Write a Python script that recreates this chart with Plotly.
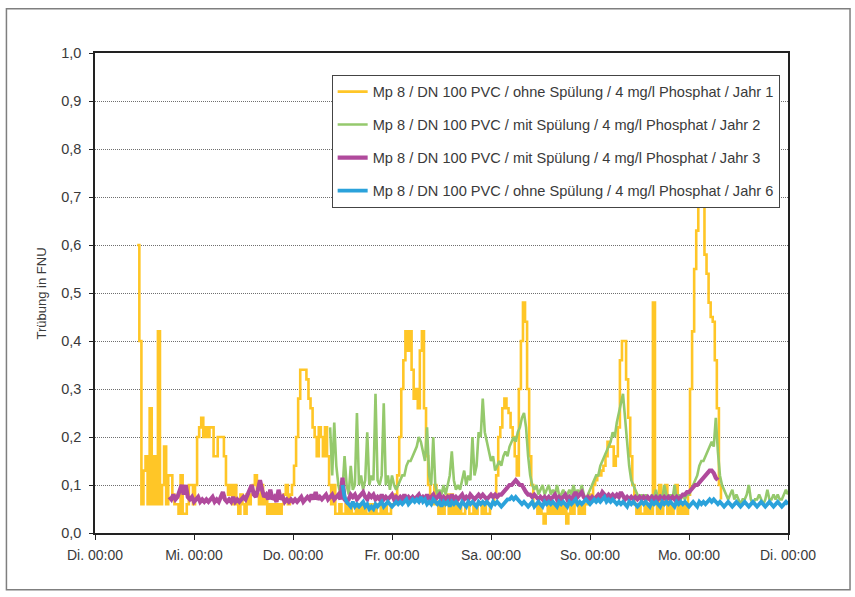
import plotly.graph_objects as go

# ---------------- data (hours since Tuesday 00:00, 0.5 h sampling) ----------------
STEP_H = 0.5
DAY_TICKS = [0, 24, 48, 72, 96, 120, 144, 168]
DAY_LABELS = ["Di. 00:00", "Mi. 00:00", "Do. 00:00", "Fr. 00:00",
              "Sa. 00:00", "So. 00:00", "Mo. 00:00", "Di. 00:00"]
Y_TICKS = [0.0, 0.1, 0.2, 0.3, 0.4, 0.5, 0.6, 0.7, 0.8, 0.9, 1.0]

NAMES = [
    "Mp 8 / DN 100 PVC / ohne Spülung / 4 mg/l Phosphat / Jahr 1",
    "Mp 8 / DN 100 PVC / mit Spülung / 4 mg/l Phosphat / Jahr 2",
    "Mp 8 / DN 100 PVC / mit Spülung / 4 mg/l Phosphat / Jahr 3",
    "Mp 8 / DN 100 PVC / ohne Spülung / 4 mg/l Phosphat / Jahr 6",
]
COLORS = ["#FFC627", "#95C96C", "#B04A9C", "#2BA2DB"]
WIDTHS = [2.6, 2.6, 4.2, 3.8]
SHAPES = ["hv", "linear", "linear", "linear"]

YELLOW_START = 10.25
YELLOW = [
    0.60, 0.40, 0.06, 0.13, 0.16, 0.06, 0.26, 0.06, 0.16, 0.06,
    0.42, 0.06, 0.10, 0.18, 0.06, 0.12, 0.12, 0.08, 0.06, 0.06,
    0.04, 0.12, 0.04, 0.04, 0.06, 0.10, 0.10, 0.06, 0.10, 0.20,
    0.22, 0.24, 0.20, 0.22, 0.20, 0.22, 0.22, 0.16, 0.16, 0.20,
    0.20, 0.20, 0.16, 0.10, 0.08, 0.10, 0.06, 0.10, 0.06, 0.04,
    0.08, 0.06, 0.04, 0.08, 0.06, 0.08, 0.10, 0.12, 0.08, 0.06,
    0.10, 0.06, 0.08, 0.04, 0.06, 0.04, 0.06, 0.04, 0.06, 0.04,
    0.06, 0.08, 0.10, 0.06, 0.08, 0.10, 0.14, 0.20, 0.28, 0.34,
    0.34, 0.34, 0.32, 0.28, 0.26, 0.22, 0.20, 0.16, 0.22, 0.20,
    0.16, 0.22, 0.16, 0.10, 0.06, 0.10, 0.04, 0.04, 0.06, 0.04,
    0.04, 0.06, 0.04, 0.06, 0.04, 0.04, 0.06, 0.04, 0.06, 0.04,
    0.06, 0.04, 0.04, 0.06, 0.04, 0.06, 0.04, 0.04, 0.06, 0.04,
    0.06, 0.04, 0.04, 0.06, 0.06, 0.08, 0.12, 0.20, 0.30, 0.36,
    0.42, 0.38, 0.42, 0.34, 0.28, 0.30, 0.26, 0.38, 0.42, 0.26,
    0.16, 0.10, 0.08, 0.06, 0.10, 0.06, 0.04, 0.06, 0.04, 0.06,
    0.08, 0.04, 0.08, 0.04, 0.06, 0.04, 0.06, 0.04, 0.04, 0.06,
    0.06, 0.04, 0.04, 0.06, 0.04, 0.06, 0.06, 0.04, 0.06, 0.04,
    0.04, 0.06, 0.06, 0.08, 0.12, 0.20, 0.22, 0.26, 0.28, 0.26,
    0.25, 0.22, 0.20, 0.16, 0.12, 0.30, 0.40, 0.48, 0.44, 0.30,
    0.16, 0.10, 0.06, 0.06, 0.04, 0.06, 0.04, 0.02, 0.04, 0.06,
    0.04, 0.06, 0.04, 0.06, 0.04, 0.06, 0.04, 0.06, 0.02, 0.04,
    0.06, 0.04, 0.08, 0.06, 0.04, 0.06, 0.04, 0.06, 0.06, 0.08,
    0.08, 0.10, 0.11, 0.12, 0.12, 0.13, 0.14, 0.16, 0.19, 0.18,
    0.18, 0.14, 0.16, 0.22, 0.36, 0.40, 0.40, 0.32, 0.24, 0.16,
    0.10, 0.06, 0.04, 0.06, 0.04, 0.04, 0.06, 0.04, 0.06, 0.04,
    0.48, 0.06, 0.04, 0.10, 0.04, 0.06, 0.10, 0.04, 0.06, 0.04,
    0.06, 0.10, 0.04, 0.06, 0.04, 0.06, 0.04, 0.08, 0.30, 0.42,
    0.55, 0.63, 0.72, 0.76, 0.68, 0.58, 0.54, 0.48, 0.45, 0.44,
    0.36, 0.26, 0.10, 0.07,
]

GREEN_START = 57.0
GREEN = [
    0.22, 0.12, 0.23, 0.14, 0.10, 0.08, 0.09, 0.16, 0.10, 0.08,
    0.14, 0.09, 0.10, 0.25, 0.10, 0.12, 0.09, 0.11, 0.21, 0.10,
    0.12, 0.11, 0.29, 0.11, 0.10, 0.12, 0.27, 0.10, 0.12, 0.09,
    0.12, 0.10, 0.09, 0.10, 0.11, 0.12, 0.12, 0.14, 0.15, 0.15,
    0.16, 0.17, 0.18, 0.20, 0.19, 0.17, 0.15, 0.22, 0.12, 0.10,
    0.20, 0.10, 0.08, 0.09, 0.08, 0.10, 0.08, 0.10, 0.12, 0.17,
    0.11, 0.09, 0.10, 0.09, 0.11, 0.13, 0.10, 0.12, 0.11, 0.20,
    0.12, 0.14, 0.21, 0.20, 0.28, 0.21, 0.19, 0.17, 0.15, 0.16,
    0.13, 0.14, 0.15, 0.14, 0.16, 0.17, 0.16, 0.18, 0.19, 0.20,
    0.19, 0.21, 0.22, 0.24, 0.25, 0.22, 0.16, 0.12, 0.10, 0.09,
    0.10, 0.08, 0.09, 0.10, 0.08, 0.09, 0.10, 0.08, 0.09, 0.08,
    0.10, 0.08, 0.08, 0.09, 0.08, 0.08, 0.09, 0.08, 0.10, 0.08,
    0.09, 0.08, 0.10, 0.08, 0.07, 0.08, 0.09, 0.10, 0.11, 0.12,
    0.12, 0.14, 0.15, 0.16, 0.17, 0.18, 0.19, 0.21, 0.20, 0.23,
    0.25, 0.27, 0.29, 0.24, 0.18, 0.14, 0.11, 0.10, 0.09, 0.08,
    0.07, 0.08, 0.07, 0.08, 0.07, 0.07, 0.08, 0.07, 0.09, 0.07,
    0.08, 0.07, 0.10, 0.08, 0.07, 0.08, 0.07, 0.10, 0.07, 0.08,
    0.07, 0.08, 0.07, 0.08, 0.08, 0.09, 0.10, 0.11, 0.12, 0.14,
    0.15, 0.15, 0.16, 0.17, 0.18, 0.19, 0.18, 0.24, 0.17, 0.12,
    0.10, 0.09, 0.08, 0.07, 0.08, 0.09, 0.07, 0.08, 0.07, 0.06,
    0.07, 0.07, 0.08, 0.10, 0.07, 0.06, 0.07, 0.07, 0.08, 0.07,
    0.06, 0.07, 0.09, 0.07, 0.07, 0.08, 0.07, 0.08, 0.07, 0.07,
    0.08, 0.09, 0.08,
]

PURPLE_START = 18.0
PURPLE = [
    0.075, 0.07, 0.08, 0.07, 0.075, 0.09, 0.10, 0.08, 0.10, 0.075,
    0.07, 0.075, 0.065, 0.07, 0.075, 0.065, 0.07, 0.065, 0.07, 0.065,
    0.07, 0.075, 0.065, 0.07, 0.065, 0.075, 0.085, 0.07, 0.065, 0.07,
    0.065, 0.075, 0.065, 0.07, 0.065, 0.07, 0.075, 0.07, 0.08, 0.09,
    0.10, 0.08, 0.075, 0.09, 0.11, 0.09, 0.075, 0.08, 0.07, 0.09,
    0.07, 0.075, 0.065, 0.09, 0.07, 0.075, 0.065, 0.07, 0.065, 0.07,
    0.065, 0.07, 0.065, 0.07, 0.075, 0.065, 0.07, 0.075, 0.07, 0.08,
    0.07, 0.085, 0.07, 0.075, 0.07, 0.075, 0.08, 0.07, 0.075, 0.08,
    0.07, 0.075, 0.08, 0.07, 0.115, 0.07, 0.065, 0.07, 0.08, 0.075,
    0.08, 0.07, 0.075, 0.08, 0.085, 0.075, 0.07, 0.08, 0.075, 0.08,
    0.07, 0.075, 0.07, 0.08, 0.07, 0.075, 0.07, 0.075, 0.08, 0.07,
    0.075, 0.07, 0.075, 0.07, 0.08, 0.07, 0.075, 0.07, 0.075, 0.07,
    0.075, 0.08, 0.07, 0.075, 0.07, 0.08, 0.07, 0.075, 0.08, 0.07,
    0.075, 0.08, 0.07, 0.075, 0.07, 0.075, 0.07, 0.08, 0.07, 0.075,
    0.07, 0.075, 0.08, 0.07, 0.075, 0.07, 0.08, 0.075, 0.07, 0.075,
    0.08, 0.075, 0.08, 0.075, 0.07, 0.075, 0.08, 0.075, 0.08, 0.075,
    0.08, 0.08, 0.085, 0.09, 0.095, 0.10, 0.10, 0.105, 0.11, 0.105,
    0.10, 0.10, 0.09, 0.085, 0.08, 0.08, 0.075, 0.08, 0.075, 0.07,
    0.075, 0.07, 0.075, 0.07, 0.075, 0.07, 0.075, 0.08, 0.07, 0.075,
    0.07, 0.075, 0.08, 0.07, 0.075, 0.07, 0.08, 0.085, 0.075, 0.08,
    0.085, 0.075, 0.07, 0.075, 0.07, 0.075, 0.07, 0.075, 0.08, 0.075,
    0.085, 0.08, 0.075, 0.08, 0.075, 0.08, 0.075, 0.08, 0.075, 0.085,
    0.075, 0.07, 0.075, 0.07, 0.075, 0.07, 0.075, 0.07, 0.075, 0.07,
    0.075, 0.07, 0.075, 0.07, 0.075, 0.07, 0.075, 0.07, 0.075, 0.07,
    0.075, 0.07, 0.075, 0.07, 0.075, 0.07, 0.075, 0.07, 0.075, 0.08,
    0.08, 0.085, 0.085, 0.09, 0.095, 0.10, 0.10, 0.105, 0.11, 0.115,
    0.12, 0.125, 0.13, 0.13, 0.125, 0.115, 0.11,
]

BLUE_START = 60.0
BLUE = [
    0.10, 0.075, 0.065, 0.06, 0.055, 0.065, 0.055, 0.06, 0.055, 0.06,
    0.065, 0.055, 0.06, 0.05, 0.055, 0.05, 0.06, 0.055, 0.06, 0.065,
    0.055, 0.06, 0.065, 0.06, 0.055, 0.06, 0.065, 0.06, 0.065, 0.06,
    0.065, 0.07, 0.06, 0.065, 0.07, 0.065, 0.07, 0.065, 0.075, 0.065,
    0.07, 0.06, 0.065, 0.06, 0.07, 0.065, 0.06, 0.065, 0.055, 0.065,
    0.06, 0.065, 0.055, 0.065, 0.06, 0.065, 0.06, 0.055, 0.065, 0.06,
    0.055, 0.065, 0.06, 0.065, 0.06, 0.055, 0.065, 0.06, 0.065, 0.06,
    0.065, 0.06, 0.055, 0.065, 0.06, 0.065, 0.06, 0.055, 0.06, 0.065,
    0.07, 0.07, 0.075, 0.07, 0.075, 0.07, 0.065, 0.06, 0.065, 0.06,
    0.055, 0.06, 0.065, 0.055, 0.06, 0.065, 0.06, 0.055, 0.065, 0.06,
    0.065, 0.06, 0.065, 0.06, 0.055, 0.065, 0.06, 0.065, 0.06, 0.055,
    0.065, 0.06, 0.065, 0.07, 0.06, 0.065, 0.06, 0.065, 0.07, 0.065,
    0.06, 0.065, 0.07, 0.065, 0.07, 0.065, 0.07, 0.075, 0.065, 0.07,
    0.065, 0.07, 0.065, 0.06, 0.065, 0.06, 0.065, 0.06, 0.055, 0.065,
    0.06, 0.065, 0.06, 0.055, 0.06, 0.065, 0.06, 0.065, 0.06, 0.055,
    0.065, 0.06, 0.065, 0.06, 0.055, 0.065, 0.06, 0.065, 0.06, 0.065,
    0.06, 0.055, 0.065, 0.06, 0.065, 0.06, 0.065, 0.06, 0.055, 0.06,
    0.065, 0.06, 0.055, 0.065, 0.06, 0.065, 0.06, 0.065, 0.07, 0.065,
    0.07, 0.065, 0.06, 0.065, 0.06, 0.055, 0.06, 0.065, 0.06, 0.055,
    0.06, 0.065, 0.06, 0.055, 0.06, 0.065, 0.06, 0.055, 0.06, 0.065,
    0.06, 0.055, 0.06, 0.065, 0.06, 0.055, 0.06, 0.065, 0.06, 0.055,
    0.06, 0.065, 0.06, 0.055, 0.06, 0.065, 0.06,
]

SERIES = [(YELLOW_START, YELLOW), (GREEN_START, GREEN),
          (PURPLE_START, PURPLE), (BLUE_START, BLUE)]

# ---------------- figure ----------------
FONT = "Liberation Sans Narrow, Arial Narrow, Liberation Sans, Arial, sans-serif"
TXT = "#3a3a3a"

fig = go.Figure()
for k, (start, vals) in enumerate(SERIES):
    times = [start + STEP_H * i for i in range(len(vals))]
    fig.add_trace(go.Scatter(
        x=times, y=vals, mode="lines", name=NAMES[k],
        legendgroup=f"g{k}",
        line=dict(color=COLORS[k], width=WIDTHS[k], shape=SHAPES[k]),
    ))

fig.update_layout(
    width=855, height=597,
    margin=dict(l=95, r=67, t=53, b=64),
    paper_bgcolor="white", plot_bgcolor="white",
    separators=",.",
    font=dict(family=FONT, size=14, color=TXT),
    showlegend=True,
    legend=dict(
        x=0.3415, y=0.955, xanchor="left", yanchor="top",
        bgcolor="white", bordercolor="#444444", borderwidth=1,
        font=dict(family=FONT, size=14.6, color=TXT),
        tracegroupgap=11, itemwidth=30,
    ),
    xaxis=dict(
        range=[0, 168], tickmode="array", tickvals=DAY_TICKS, ticktext=DAY_LABELS,
        showgrid=False, zeroline=False,
        showline=True, linecolor="#222222", linewidth=1.5, mirror=True,
        ticks="outside", ticklen=5, tickcolor="#222222", tickwidth=1.2,
        ticklabelstandoff=3,
        tickfont=dict(family=FONT, size=14, color=TXT),
    ),
    yaxis=dict(
        range=[0, 1.0], tickmode="array", tickvals=Y_TICKS, tickformat=".1f",
        showgrid=True, gridcolor="#6f6f6f", griddash="1px,1px", gridwidth=1,
        zeroline=False,
        showline=True, linecolor="#222222", linewidth=1.5, mirror=True,
        ticks="outside", ticklen=4, tickcolor="#222222", tickwidth=1.2,
        ticklabelstandoff=5,
        tickfont=dict(family=FONT, size=14.5, color=TXT),
    ),
    shapes=[dict(
        type="rect", xref="paper", yref="paper",
        x0=-0.1278, x1=1.0895, y0=-0.118, y1=1.0923,
        line=dict(color="#7f7f7f", width=1.5), fillcolor="rgba(0,0,0,0)",
        layer="below",
    )],
    annotations=[dict(
        text="Trübung in FNU", xref="paper", yref="paper",
        x=-0.0773, y=0.5, xanchor="center", yanchor="middle",
        textangle=-90, showarrow=False,
        font=dict(family=FONT, size=13, color=TXT),
    )],
)

fig.write_html("out.html", config={"displayModeBar": False},
               post_script="document.body.style.margin='0';")
